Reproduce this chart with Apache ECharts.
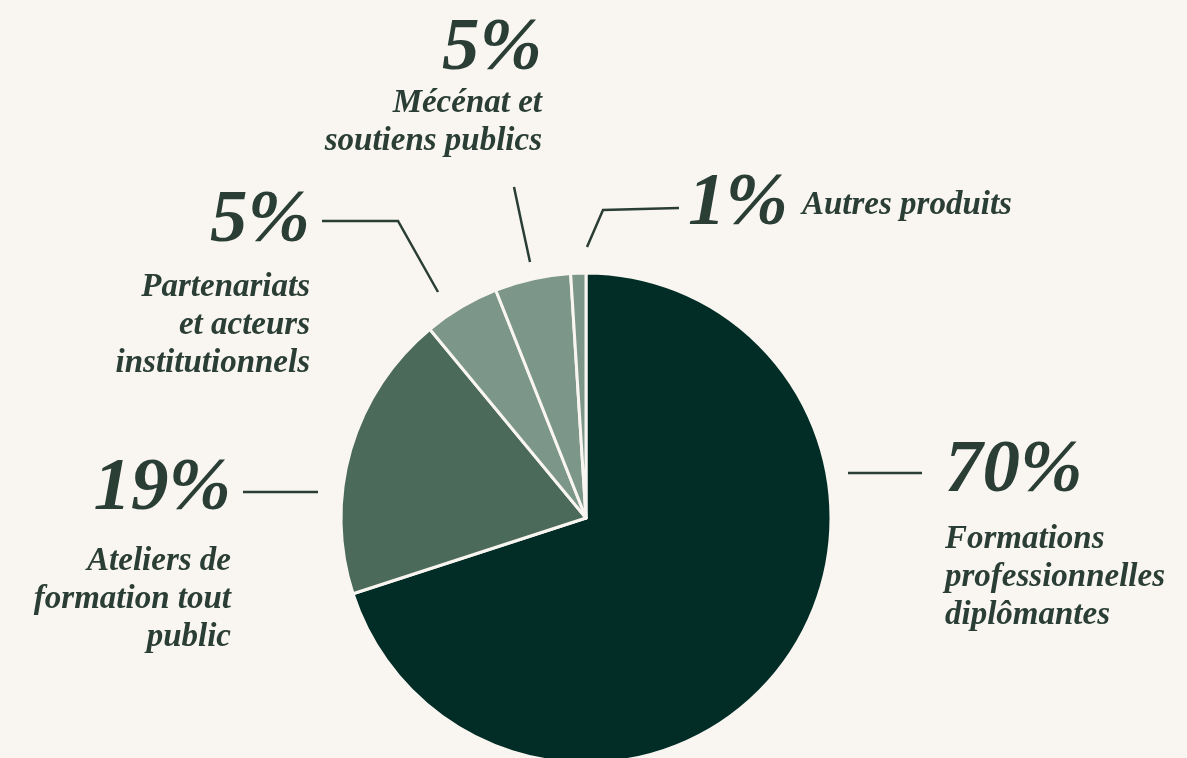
<!DOCTYPE html>
<html>
<head>
<meta charset="utf-8">
<script src="https://cdn.jsdelivr.net/npm/echarts@6/dist/echarts.min.js"></script>
<style>
  html, body { margin: 0; padding: 0; background: #f9f5f1; }
  #chart { width: 1187px; height: 758px; }
</style>
</head>
<body>
<div id="chart"></div>
<script>
// ---- data ----
const categories = [
  'Formations professionnelles diplômantes',
  'Ateliers de formation tout public',
  'Partenariats et acteurs institutionnels',
  'Mécénat et soutiens publics',
  'Autres produits'
];
const values = [70, 19, 5, 5, 1];
const nameLines = [
  ['Formations', 'professionnelles', 'diplômantes'],
  ['Ateliers de', 'formation tout', 'public'],
  ['Partenariats', 'et acteurs', 'institutionnels'],
  ['Mécénat et', 'soutiens publics'],
  ['Autres produits']
];
const sliceColors = ['#022d27', '#4b6a5a', '#7c978a', '#7c978a', '#7c978a'];

// ---- label layout (annotation placement) ----
const labelLayouts = [
  { x: 945, y: 424, align: 'left',  lp: 96,  line: [[848, 473], [885, 473], [922, 473]] },
  { x: 231, y: 438, align: 'right', lp: 104, line: [[318, 492], [280, 492], [243, 492]] },
  { x: 310, y: 176, align: 'right', lp: 92,  line: [[438, 292], [398, 221], [322, 221]] },
  { x: 542, y: 16,  align: 'right', lp: 68,  line: [[530, 262], [522, 225], [514, 187]] },
  { x: 688, y: 170, align: 'left',  lp: 70,  inline: true, line: [[587, 247], [603, 210], [679, 208]] }
];

const textColor = '#2a3e36';
const bg = '#f9f5f1';
const fontBase = { fontFamily: 'Liberation Serif', fontStyle: 'italic', fontWeight: 'bold', color: textColor };

const data = categories.map((name, i) => {
  const L = labelLayouts[i];
  let formatter;
  if (L.inline) {
    formatter = '{p|' + values[i] + '%}{g|' + nameLines[i].join(' ') + '}';
  } else {
    formatter = '{p|' + values[i] + '%}\n' + nameLines[i].map(s => '{n|' + s + '}').join('\n');
  }
  return {
    name: name,
    value: values[i],
    itemStyle: { color: sliceColors[i] },
    label: {
      formatter: formatter,
      rich: {
        p: Object.assign({}, fontBase, { fontSize: 75, lineHeight: L.lp }),
        n: Object.assign({}, fontBase, { fontSize: 33, lineHeight: 38 }),
        g: Object.assign({}, fontBase, { fontSize: 33, lineHeight: L.lp, padding: [0, 0, 0, 14] })
      }
    }
  };
});

const chart = echarts.init(document.getElementById('chart'), null, { renderer: 'canvas' });
chart.setOption({
  backgroundColor: bg,
  animation: false,
  series: [{
    type: 'pie',
    center: [586, 518],
    radius: 245,
    startAngle: 90,
    clockwise: true,
    avoidLabelOverlap: false,
    itemStyle: { borderColor: bg, borderWidth: 3 },
    emphasis: { disabled: true },
    label: { show: true, position: 'outside' },
    labelLine: { show: true, lineStyle: { color: textColor, width: 2.5 } },
    labelLayout: function (params) {
      const L = labelLayouts[params.dataIndex];
      return {
        x: L.x,
        y: L.y,
        align: L.align,
        verticalAlign: 'top',
        labelLinePoints: L.line
      };
    },
    data: data
  }]
});
</script>
</body>
</html>
